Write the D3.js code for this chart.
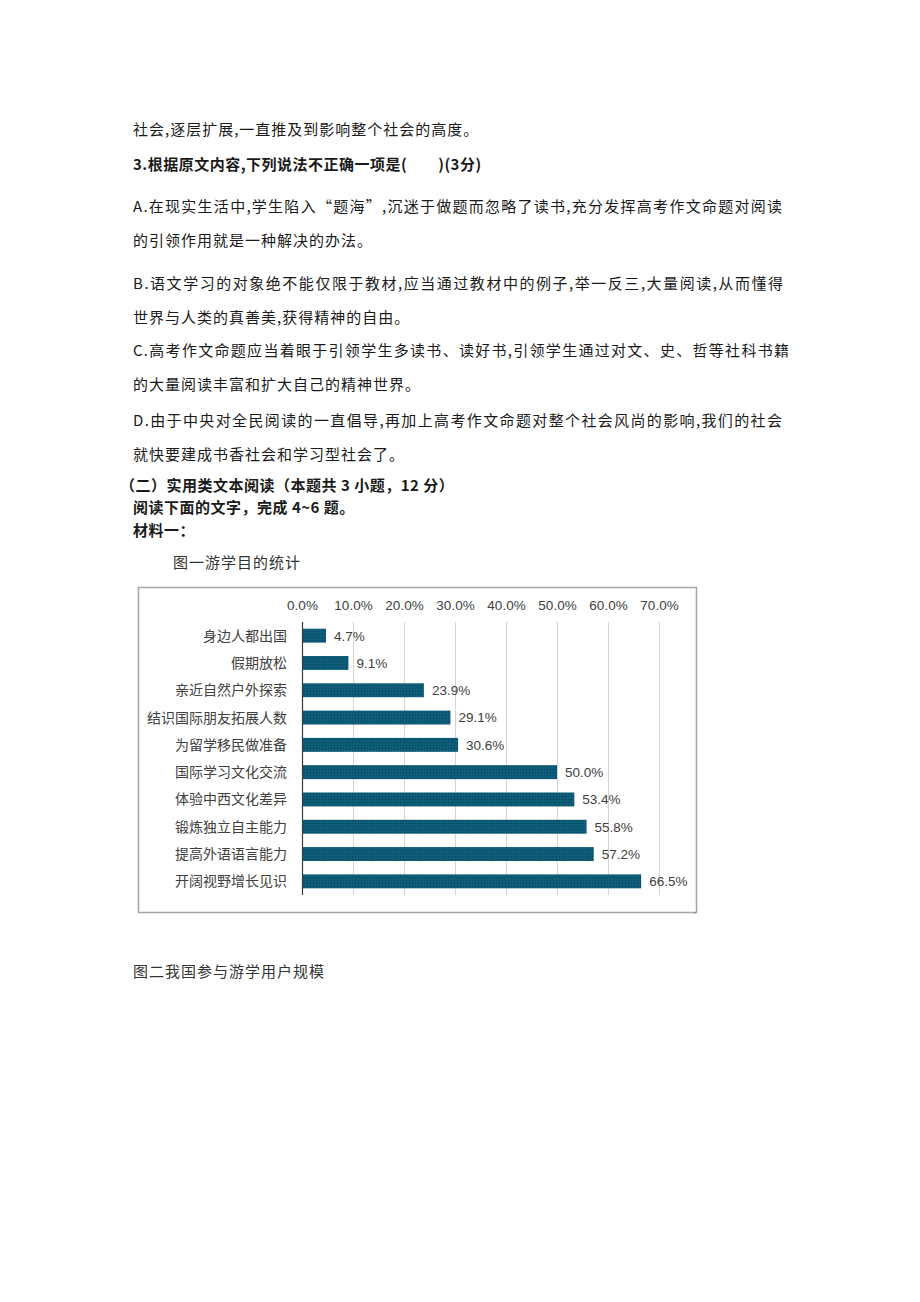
<!DOCTYPE html>
<html>
<head>
<meta charset="utf-8">
<script src="https://cdn.jsdelivr.net/npm/d3@7/dist/d3.min.js"></script>
<style>
  body { margin: 0; background: #fff; }
  svg { display: block; }
  .txt  { font-family: "Noto Sans CJK SC", sans-serif; font-size: 15px; fill: #1a1a1a; letter-spacing: 1px; }
  .bold { font-weight: 700; letter-spacing: 0.5px; }
  .cap  { fill: #333; }
  .tick-label, .value-label { font-family: "Liberation Sans", Arial, sans-serif; font-size: 13.5px; fill: #404040; }
  .cat-label { font-family: "Noto Sans CJK SC", sans-serif; font-size: 14px; fill: #404040; }
</style>
</head>
<body>
<svg id="page" width="920" height="1302"></svg>
<script>
// ─── Chart data ───────────────────────────────────────────────────────────────
const categories = [
    "身边人都出国", "假期放松", "亲近自然户外探索", "结识国际朋友拓展人数", "为留学移民做准备",
    "国际学习文化交流", "体验中西文化差异", "锻炼独立自主能力", "提高外语语言能力", "开阔视野增长见识"
];
const values     = [4.7, 9.1, 23.9, 29.1, 30.6, 50.0, 53.4, 55.8, 57.2, 66.5];
const tickValues = [0, 10, 20, 30, 40, 50, 60, 70];

// ─── Page text ────────────────────────────────────────────────────────────────
const pageLines = [
    "社会,逐层扩展,一直推及到影响整个社会的高度。",
    "3.根据原文内容,下列说法不正确一项是(\u3000\u3000)(3分)",
    "A.在现实生活中,学生陷入“题海”,沉迷于做题而忽略了读书,充分发挥高考作文命题对阅读",
    "的引领作用就是一种解决的办法。",
    "B.语文学习的对象绝不能仅限于教材,应当通过教材中的例子,举一反三,大量阅读,从而懂得",
    "世界与人类的真善美,获得精神的自由。",
    "C.高考作文命题应当着眼于引领学生多读书、读好书,引领学生通过对文、史、哲等社科书籍",
    "的大量阅读丰富和扩大自己的精神世界。",
    "D.由于中央对全民阅读的一直倡导,再加上高考作文命题对整个社会风尚的影响,我们的社会",
    "就快要建成书香社会和学习型社会了。",
    "（二）实用类文本阅读（本题共 3 小题，12 分）",
    "阅读下面的文字，完成 4~6 题。",
    "材料一：",
    "图一游学目的统计",
    "图二我国参与游学用户规模"
];

// layout for each line: x, baseline, justified width (or null), class
const lineLayout = [
    [133, 135, null, ""],
    [133, 170, null, "bold"],
    [133, 212, 650,  ""],
    [133, 246, null, ""],
    [133, 289, 651,  ""],
    [133, 323, null, ""],
    [133, 356, 657,  ""],
    [133, 390, null, ""],
    [133, 426, 650,  ""],
    [133, 460, null, ""],
    [120, 491, null, "bold"],
    [133, 513, null, "bold"],
    [133, 536, null, "bold"],
    [173, 568, null, "cap"],
    [133, 977, null, "cap"]
];

const svg = d3.select("#page");
svg.append("rect").attr("width", 920).attr("height", 1302).attr("fill", "#fff");

svg.selectAll("text.txt")
    .data(pageLines)
    .join("text")
    .attr("class", (d, i) => "txt " + lineLayout[i][3])
    .attr("x", (d, i) => lineLayout[i][0])
    .attr("y", (d, i) => lineLayout[i][1])
    .each(function(d, i) {
        const w = lineLayout[i][2];
        if (w) d3.select(this).attr("textLength", w).attr("lengthAdjust", "spacing");
    })
    .text(d => d);

// ─── Chart ────────────────────────────────────────────────────────────────────
const box = { x: 138, y: 587, w: 558, h: 325 };
const plot = { left: 302, right: 659, top: 622, bottom: 895 };

const defs = svg.append("defs");
const pat = defs.append("pattern")
    .attr("id", "barDots")
    .attr("width", 3).attr("height", 3)
    .attr("patternUnits", "userSpaceOnUse");
pat.append("rect").attr("width", 3).attr("height", 3).attr("fill", "#0d5d78");
pat.append("rect").attr("x", 1).attr("y", 1).attr("width", 1).attr("height", 1).attr("fill", "#06435a");

const chart = svg.append("g").attr("class", "chart");

chart.append("rect")
    .attr("x", box.x + 0.5).attr("y", box.y + 0.5)
    .attr("width", box.w).attr("height", box.h)
    .attr("fill", "#fff")
    .attr("stroke", "#a6a6a6")
    .attr("stroke-width", 1.5);

const x = d3.scaleLinear().domain([0, 70]).range([plot.left, plot.right]);
const y = d3.scaleBand().domain(categories).range([plot.top, plot.bottom]).paddingInner(0.49).paddingOuter(0.245);

// vertical gridlines
chart.append("g")
    .selectAll("line")
    .data(tickValues.slice(1))
    .join("line")
    .attr("x1", d => Math.round(x(d)) + 0.5).attr("x2", d => Math.round(x(d)) + 0.5)
    .attr("y1", plot.top).attr("y2", plot.bottom)
    .attr("stroke", "#d6d3d6")
    .attr("stroke-width", 1);

// top tick labels
const topAxis = d3.axisTop(x).tickValues(tickValues).tickFormat(d => d.toFixed(1) + "%").tickSize(0).tickPadding(0);
const axisG = chart.append("g").attr("transform", `translate(0,${610})`).call(topAxis);
axisG.select(".domain").remove();
axisG.selectAll("text").attr("class", "tick-label").attr("fill", null).attr("dy", 0).attr("y", 0);

// bars
chart.append("g")
    .selectAll("rect")
    .data(categories)
    .join("rect")
    .attr("x", x(0))
    .attr("y", d => y(d))
    .attr("width", (d, i) => x(values[i]) - x(0))
    .attr("height", y.bandwidth())
    .attr("fill", "url(#barDots)");

// vertical axis line
chart.append("line")
    .attr("x1", plot.left + 0.5).attr("x2", plot.left + 0.5)
    .attr("y1", plot.top).attr("y2", plot.bottom)
    .attr("stroke", "#3a3a3a").attr("stroke-width", 1.2);

// category labels
const leftAxis = d3.axisLeft(y).tickSize(0).tickPadding(15);
const leftG = chart.append("g").attr("transform", `translate(${plot.left},0)`).call(leftAxis);
leftG.select(".domain").remove();
leftG.selectAll("text").attr("class", "cat-label").attr("fill", null).attr("dy", "0.36em");

// value labels
chart.append("g")
    .selectAll("text")
    .data(categories)
    .join("text")
    .attr("class", "value-label")
    .attr("x", (d, i) => x(values[i]) + 8)
    .attr("y", d => y(d) + y.bandwidth() / 2)
    .attr("dy", "0.36em")
    .text((d, i) => values[i].toFixed(1) + "%");

// little resize mark at the corner of the chart frame
chart.append("path")
    .attr("d", `M${box.x + box.w - 2},${box.y + box.h + 2} l3,-3`)
    .attr("stroke", "#888").attr("stroke-width", 1);
</script>
</body>
</html>
